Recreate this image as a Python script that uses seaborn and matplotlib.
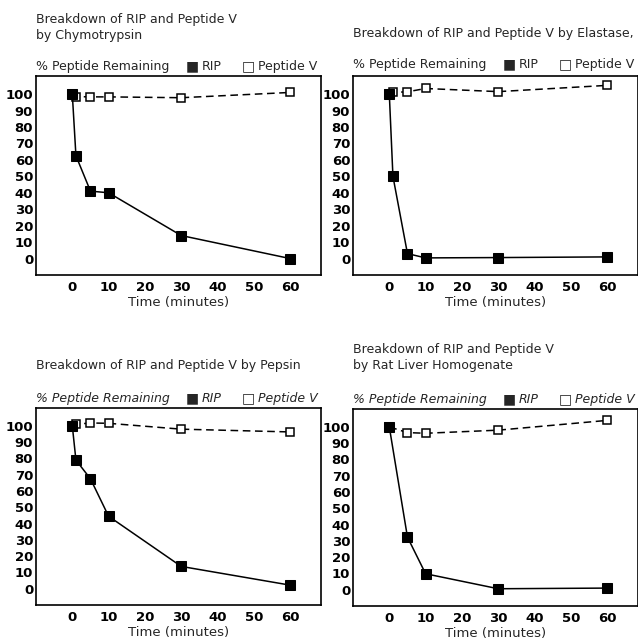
import numpy as np
import pandas as pd
import matplotlib
matplotlib.use('Agg')
import matplotlib.pyplot as plt
import seaborn as sns

# time points (minutes) and % remaining
chymo_time = [0, 1, 5, 10, 30, 60]
chymo_rip = [100, 62.5, 41, 40, 14, 0]
chymo_pepv = [100, 98.5, 98.3, 98.3, 97.8, 101]

elast_time = [0, 1, 5, 10, 30, 60]
elast_rip = [100, 50, 3, 0.4, 0.6, 1]
elast_pepv = [100, 101, 101.4, 103.4, 101.5, 105.3]

pepsin_time = [0, 1, 5, 10, 30, 60]
pepsin_rip = [100, 79, 67.5, 44.5, 13.7, 2.2]
pepsin_pepv = [100, 101, 101.8, 101.6, 98, 96.3]

liver_time = [0, 5, 10, 30, 60]
liver_rip = [100, 32.3, 9.8, 0.6, 1]
liver_pepv = [100, 96.5, 96.1, 98, 104]

titles = ["Breakdown of RIP and Peptide V\nby Chymotrypsin",
          "Breakdown of RIP and Peptide V by Elastase,",
          "Breakdown of RIP and Peptide V by Pepsin",
          "Breakdown of RIP and Peptide V\nby Rat Liver Homogenate"]
x_ticks = [0, 10, 20, 30, 40, 50, 60]
y_ticks = list(range(0, 101, 10))

sns.set_style("white")
plt.rcParams['font.family'] = ['DejaVu Sans']

W, H = 638, 640
fig = plt.figure(figsize=(W / 100, H / 100), dpi=100)


def px(x, y):
    return x / W, 1 - y / H


# data, (left, top, bottom) in pixels, title line y's, header y, italic header
panels = [
    (chymo_time, chymo_rip, chymo_pepv, (36, 76, 275), [20, 35], 65, False),
    (elast_time, elast_rip, elast_pepv, (353, 76, 275), [33], 63, False),
    (pepsin_time, pepsin_rip, pepsin_pepv, (36, 408, 605), [365], 397, True),
    (liver_time, liver_rip, liver_pepv, (353, 409, 606), [350, 366], 398, True),
]

for i, (t, rip, pepv, box, tlines, hy, ital) in enumerate(panels):
    left, top, bottom = box
    ax = fig.add_axes([left / W, 1 - bottom / H, 285 / W, (bottom - top) / H])
    df = pd.DataFrame({'t': t, 'rip': rip, 'pepv': pepv})
    sns.lineplot(data=df, x='t', y='pepv', ax=ax, color='black', lw=1.1,
                 linestyle=(0, (5, 3)), marker='s', markersize=5.5,
                 markerfacecolor='white', markeredgecolor='black', markeredgewidth=1.1)
    sns.lineplot(data=df, x='t', y='rip', ax=ax, color='black', lw=1.1,
                 marker='s', markersize=6.5, markerfacecolor='black', markeredgecolor='black')
    ax.set_xlim(-10, 68.5)
    ax.set_ylim(-10, 111)
    ax.set_xticks(x_ticks)
    ax.set_yticks(y_ticks)
    ax.tick_params(direction='in', length=5, width=1, colors='black', labelsize=9.5, pad=2)
    ax.tick_params(axis='x', pad=4)
    for lab in ax.get_xticklabels() + ax.get_yticklabels():
        lab.set_fontweight('bold')
    ax.set_xlabel('Time (minutes)', fontsize=9.5, labelpad=2)
    ax.set_ylabel('')
    for s in ax.spines.values():
        s.set_color('black')
        s.set_linewidth(1.2)

    for ty, line in zip(tlines, titles[i].split('\n')):
        fig.text(*px(left, ty), line, fontsize=9, va='center', ha='left')

    # header line acting as legend
    style = 'italic' if ital else 'normal'
    kw = dict(va='center_baseline', ha='left')
    fig.text(*px(left, hy), '% Peptide Remaining', fontsize=9, style=style, **kw)
    fig.text(*px(left + 150, hy), '\u25A0', fontsize=10, **kw)
    fig.text(*px(left + 166, hy), 'RIP', fontsize=9, style=style, **kw)
    fig.text(*px(left + 206, hy), '\u25A1', fontsize=10, **kw)
    fig.text(*px(left + 222, hy), 'Peptide V', fontsize=9, style=style, **kw)

fig.savefig('out.png', dpi=100)
